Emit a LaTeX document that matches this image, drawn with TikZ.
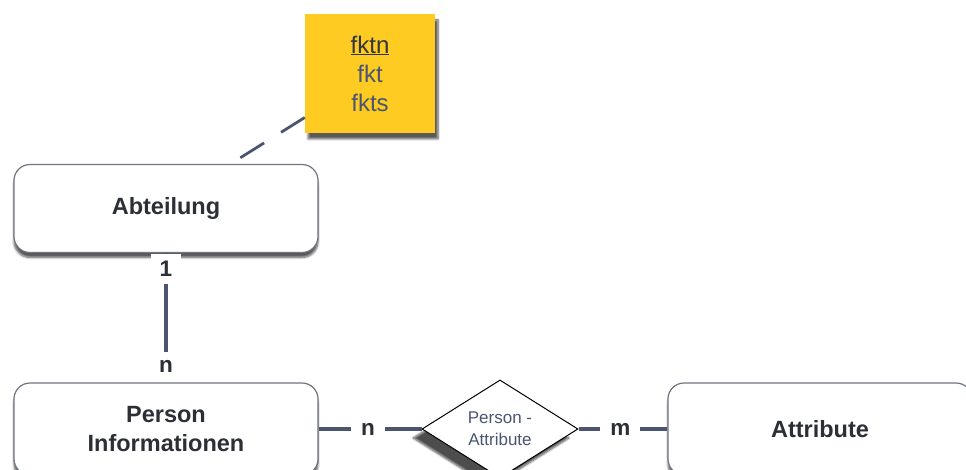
\documentclass[tikz,border=0pt]{standalone}
\usepackage{fontspec}
\setmainfont{Liberation Sans}
\usetikzlibrary{shapes.geometric,shadows.blur}
\definecolor{linegray}{HTML}{4B5570}
\definecolor{fkyellow}{HTML}{FDCB22}
\definecolor{boxline}{HTML}{70757F}
\definecolor{textdark}{HTML}{2C2F36}

\begin{document}
\begin{tikzpicture}[x=1pt,y=-1pt,
    entity/.style={draw=boxline, line width=1.2pt, fill=white, rounded corners=16pt,
        minimum width=304pt, minimum height=88pt, align=center, text=textdark,
        font=\fontsize{23.5}{29}\selectfont\bfseries,
        blur shadow={shadow xshift=0pt, shadow yshift=-5pt, shadow blur steps=6, shadow opacity=65}},
    relation/.style={diamond, draw=black, line width=1pt, fill=white, inner sep=0pt,
        minimum width=156pt, minimum height=96pt, align=center, text=linegray,
        font=\fontsize{17}{22}\selectfont,
        blur shadow={shadow xshift=-9pt, shadow yshift=-9pt, shadow blur steps=6, shadow opacity=70}},
    note/.style={fill=fkyellow, minimum width=130pt, minimum height=119pt, align=center,
        text=linegray, font=\fontsize{24}{29}\selectfont,
        blur shadow={shadow xshift=3pt, shadow yshift=-6pt, shadow blur steps=6, shadow opacity=65}},
    card/.style={fill=white, text=textdark, font=\fontsize{22.5}{24}\selectfont\bfseries,
        minimum width=30pt, minimum height=30pt, inner sep=0pt},
    link/.style={draw=linegray, line width=3.2pt}]
    \useasboundingbox (0,0) rectangle (966,470);
    \clip (0,0) rectangle (966,470);

    \node[note] (fk) at (370,73.5) {\textcolor{textdark!85!linegray}{\underline{fktn}}\\fkt\\fkts};
    \node[entity] (abt) at (166,208.5) {Abteilung};
    \node[entity, minimum height=92pt] (pers) at (166,429) {Person\\Informationen};
    \node[relation] (persattr) at (500,429) {Person -\\Attribute};
    \node[entity, minimum height=92pt] (attr) at (820,429) {Attribute};

    \coordinate (fkend) at (240,158);
    \draw[link, line width=2.8pt, dash pattern=on 28pt off 20pt] (fk.214) -- (fkend);

    \draw[link] (abt.south) -- (pers.north)
        node[card, pos=0.12] {1}
        node[card, pos=0.88] {n};
    \draw[link] (pers.east) -- (persattr.west)
        node[card, pos=0.48, minimum width=34pt] {n};
    \draw[link] (persattr.east) -- (attr.west)
        node[card, pos=0.47, minimum width=40pt] {m};
\end{tikzpicture}
\end{document}
